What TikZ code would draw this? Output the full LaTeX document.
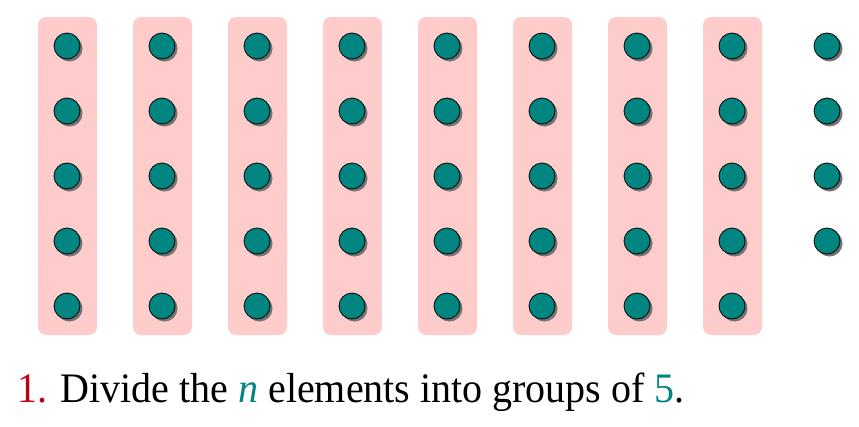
\documentclass[tikz,border=0pt]{standalone}
\usepackage{fontspec}
\setmainfont{Liberation Serif}
\usetikzlibrary{shadows}

\definecolor{dotteal}{RGB}{0,133,128}
\definecolor{grouppink}{RGB}{255,204,204}
\definecolor{numred}{RGB}{190,0,20}

\tikzset{
    elem/.style={circle, draw=black, thick, fill=dotteal, minimum size=26pt, inner sep=0pt,
        drop shadow={shadow xshift=2.5pt, shadow yshift=-2.5pt, fill=black!55, opacity=1}},
    groupbox/.style={fill=grouppink, draw=none, rounded corners=8pt}
}

\begin{document}
\begin{tikzpicture}[x=1pt, y=-1pt]
        \useasboundingbox (0,0) rectangle (859,426);

        % groups of five
        \foreach \i in {0,...,7} {
            \fill[groupbox] (38+95*\i, 17) rectangle (97+95*\i, 335);
            \foreach \j in {0,...,4}
                \node[elem] (d-\i-\j) at (67+95*\i, 46+65*\j) {};
        }

        % leftover elements
        \foreach \j in {0,...,3}
            \node[elem] (d-8-\j) at (827, 46+65*\j) {};

        \node[anchor=base west, inner sep=0pt, yscale=1.05, font=\fontsize{40}{48}\selectfont] (caption) at (17, 402)
            {\textcolor{numred}{1.} Divide the \textcolor{dotteal}{\textit{n}} elements into groups of \textcolor{dotteal}{5}.};

    \end{tikzpicture}
\end{document}
